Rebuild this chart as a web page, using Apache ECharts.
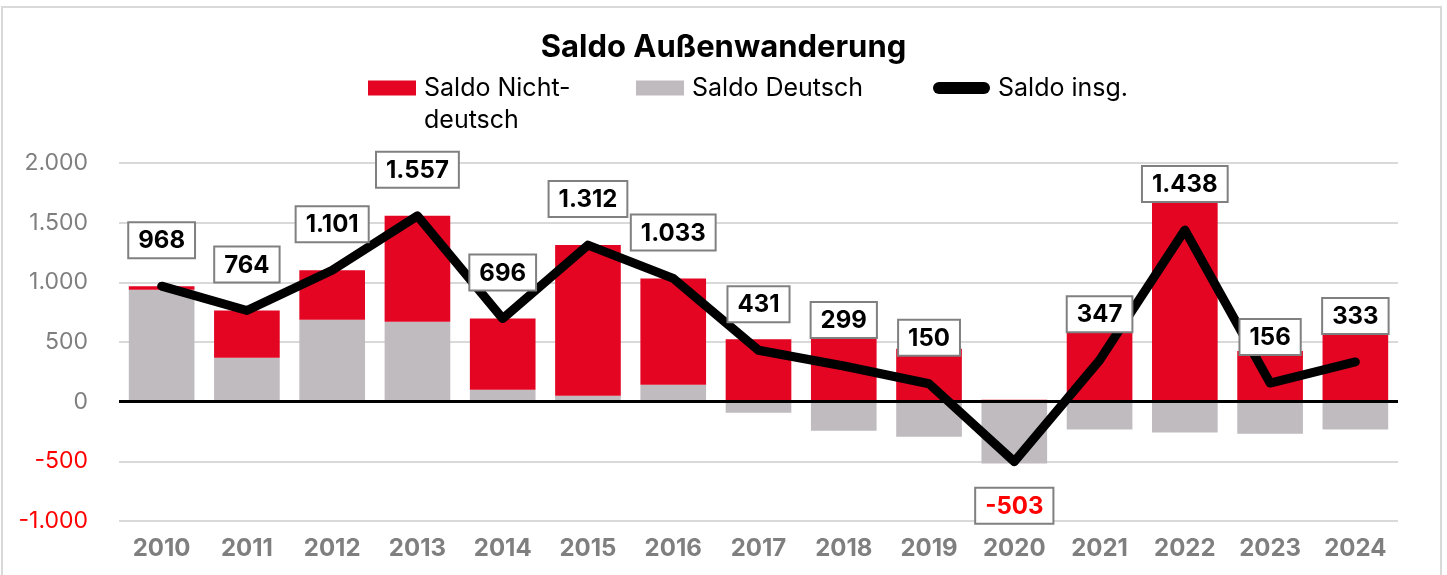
<!DOCTYPE html>
<html>
<head>
<meta charset="utf-8">
<script src="https://cdn.jsdelivr.net/npm/echarts@6/dist/echarts.min.js"></script>
<style>
html, body { margin: 0; padding: 0; background: #fff; }
#chart { width: 1447px; height: 575px; }
</style>
</head>
<body>
<div id="chart"></div>
<script>
// Jahre
var years = ['2010','2011','2012','2013','2014','2015','2016','2017','2018','2019','2020','2021','2022','2023','2024']
// Saldo Nichtdeutsch (rot)
var saldoNichtdeutsch = [31, 396, 415, 888, 596, 1262, 891, 523, 542, 443, 16, 581, 1697, 424, 567]
// Saldo Deutsch (grau)
var saldoDeutsch = [937, 368, 686, 669, 100, 50, 142, -92, -243, -293, -519, -234, -259, -268, -234]
// Saldo insgesamt (Linie)
var saldoGesamt = [968, 764, 1101, 1557, 696, 1312, 1033, 431, 299, 150, -503, 347, 1438, 156, 333]

var red = '#e30522'
var grey = '#bfbbbf'
var font = 'Inter, "Noto Sans", sans-serif'

function fmt(v) {
    var s = String(Math.abs(v)).replace(/\B(?=(\d{3})+(?!\d))/g, '.')
    return (v < 0 ? '-' : '') + s
}

// eine Legende pro Eintrag, damit die Abstände wie im Original sind
function legendItem(name, left, top, icon, w, h) {
    return {
        left: left,
        top: top,
        padding: 0,
        itemWidth: w,
        itemHeight: h,
        icon: icon,
        data: [name],
        textStyle: { fontSize: 25, color: '#000', fontFamily: font, lineHeight: 32, padding: [0, 0, 0, 3] },
        formatter: function (n) {
            // Leerzeile oben, damit die erste Zeile auf Höhe des Symbols sitzt
            return n == 'Saldo Nichtdeutsch' ? '\nSaldo Nicht-\ndeutsch' : n
        }
    }
}

var chart = echarts.init(document.getElementById('chart'))
var option = {
    animation: false,
    textStyle: { fontFamily: font },
    title: {
        text: 'Saldo Außenwanderung',
        left: 'center',
        top: 27,
        textStyle: { fontSize: 31, fontWeight: 'bold', color: '#000', fontFamily: font }
    },
    legend: [
        legendItem('Saldo Nichtdeutsch', 368, 40, 'rect', 48, 15),
        legendItem('Saldo Deutsch', 636, 72, 'rect', 48, 15),
        legendItem('Saldo insg.', 933, 72, 'path://M6,0 H51 A6,6 0 0 1 51,12 H6 A6,6 0 0 1 6,0 Z', 57, 12)
    ],
    grid: { left: 119, right: 49, top: 163, bottom: 54 },
    xAxis: {
        type: 'category',
        data: years,
        axisLine: { show: false, onZero: false },
        axisTick: { show: false },
        axisLabel: { fontSize: 24, fontWeight: 'bold', color: '#7f7f7f', margin: 16, fontFamily: font }
    },
    yAxis: {
        type: 'value',
        min: -1000,
        max: 2000,
        interval: 500,
        axisLine: { show: false },
        axisTick: { show: false },
        splitLine: { lineStyle: { color: '#d9d9d9', width: 2 } },
        axisLabel: {
            margin: 31,
            formatter: function (v) {
                return v < 0 ? '{n|' + fmt(v) + '}' : '{p|' + fmt(v) + '}'
            },
            rich: {
                p: { fontSize: 23, color: '#7f7f7f', fontFamily: font },
                n: { fontSize: 23, color: '#ff0000', fontFamily: font }
            }
        }
    },
    series: [
        {
            name: 'Saldo Deutsch',
            type: 'bar',
            stack: 'saldo',
            barCategoryGap: '23%',
            itemStyle: { color: grey },
            data: saldoDeutsch,
            markLine: {
                silent: true,
                symbol: 'none',
                label: { show: false },
                lineStyle: { color: '#000', width: 3, type: 'solid' },
                data: [{ yAxis: 0 }]
            }
        },
        {
            name: 'Saldo Nichtdeutsch',
            type: 'bar',
            stack: 'saldo',
            itemStyle: { color: red },
            data: saldoNichtdeutsch
        },
        {
            name: 'Saldo insg.',
            type: 'line',
            symbol: 'circle',
            symbolSize: 2,
            showSymbol: true,
            lineStyle: { color: '#000', width: 9, cap: 'round', join: 'round' },
            itemStyle: { color: '#000' },
            z: 5,
            data: saldoGesamt.map(function (v) {
                return {
                    value: v,
                    label: v < 0 ? { position: 'bottom', distance: 26, color: '#ff0000' } : {}
                }
            }),
            label: {
                show: true,
                position: 'top',
                distance: 28,
                formatter: function (p) { return fmt(p.value) },
                fontSize: 24,
                fontWeight: 'bold',
                color: '#000',
                fontFamily: font,
                backgroundColor: '#fff',
                borderColor: '#808080',
                borderWidth: 2,
                padding: [6, 9, 4, 9]
            }
        }
    ],
    graphic: [{
        type: 'rect',
        shape: { x: 2, y: 7, width: 1439, height: 580 },
        style: { fill: 'none', stroke: '#d9d9d9', lineWidth: 2 },
        silent: true
    }]
}
chart.setOption(option)
</script>
</body>
</html>
